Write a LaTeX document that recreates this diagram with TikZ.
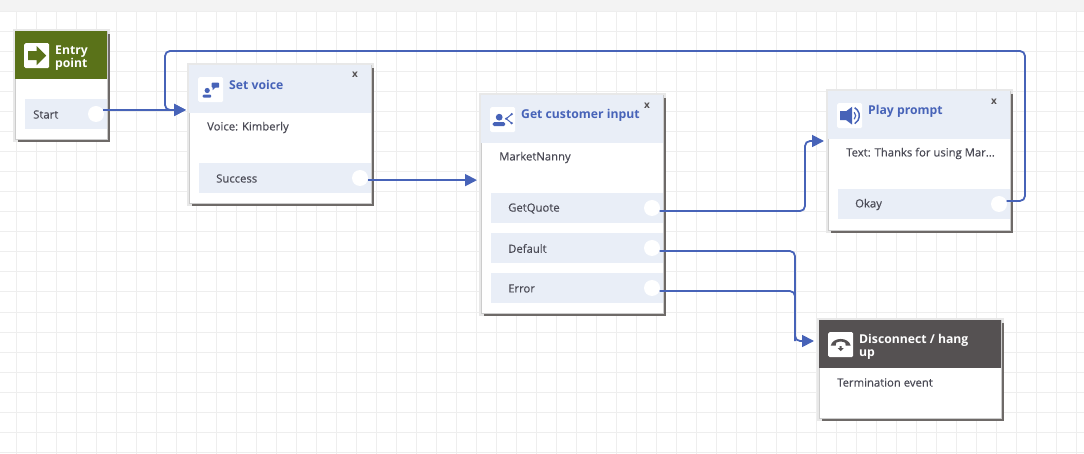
\documentclass[tikz,border=0pt]{standalone}
\usepackage{fontspec}
\setmainfont{Open Sans}
\newfontfamily\labelfont[FakeBold=0.35]{Open Sans}
\usetikzlibrary{arrows.meta, shadows}
\definecolor{flowblue}{HTML}{4763B8}
\definecolor{flowpale}{HTML}{E9EEF7}
\definecolor{flowgreen}{HTML}{5A7219}
\definecolor{flowdark}{HTML}{555152}
\definecolor{flowtext}{HTML}{4A4A55}
\definecolor{flowgrid}{HTML}{EEEEEE}
\definecolor{flowband}{HTML}{F3F3F3}
\definecolor{flowshadow}{HTML}{6E6A68}
\definecolor{flowhalo}{HTML}{E8E8E8}
\definecolor{flowedge}{HTML}{CCCCCC}
\begin{document}
\begin{tikzpicture}[x=1pt, y=-1pt, font=\fontsize{11.3}{13}\selectfont\labelfont,
    flowbox/.style={anchor=north west, inner sep=0, fill=white,
      preaction={draw=flowhalo, line width=5pt},
      drop shadow={shadow xshift=2.5pt, shadow yshift=-2.5pt, fill=flowshadow, opacity=1},
      draw=flowedge, line width=0.6pt, minimum width=182pt},
    paleband/.style={anchor=north west, inner sep=0, fill=flowpale},
    headband/.style={paleband, minimum width=182pt, minimum height=48pt},
    outrow/.style={paleband, minimum width=172pt, minimum height=30pt},
    outport/.style={circle, fill=white, inner sep=0, minimum size=16pt},
    iconbox/.style={anchor=north west, inner sep=0, fill=white, rounded corners=1.5pt, minimum size=25pt},
    headtext/.style={anchor=west, inner sep=0, text=flowblue, font=\fontsize{12.2}{13}\selectfont\bfseries},
    whitetext/.style={anchor=west, inner sep=0, text=white, align=left, font=\fontsize{12.2}{13}\selectfont\bfseries},
    bodytext/.style={anchor=west, inner sep=0, text=flowtext},
    closetext/.style={inner sep=0, text=flowdark, font=\fontsize{10}{10}\selectfont\bfseries},
    flowline/.style={draw=flowblue, line width=1.8pt, rounded corners=5pt},
    flowarrow/.style={flowline, -{Triangle[length=12pt, width=12pt]}}]
    \useasboundingbox (0,0) rectangle (1084,454);
    % background grid
    \fill[flowband] (0,0) rectangle (1084,11);
    \foreach \gx in {16,36,...,1076} \draw[flowgrid, line width=1pt] (\gx,12) -- (\gx,454);
    \foreach \gy in {12,32,...,452} \draw[flowgrid, line width=1pt] (0,\gy) -- (1084,\gy);

    % entry point
    \node[flowbox, minimum width=92pt, minimum height=108pt] (entrybox) at (15,31) {};
    \node[paleband, fill=flowgreen, minimum width=92pt, minimum height=48pt] (entryhead) at (15,31) {};
    \node[iconbox] (entryicon) at (24,43) {};
    \fill[flowgreen, shift={(entryicon.center)}] (-8.5,-4.5) -- (0,-4.5) -- (0,-9.5) -- (9.5,0) -- (0,9.5) -- (0,4.5) -- (-8.5,4.5) -- cycle;
    \node[whitetext] (entrytitle) at (55,58) {Entry\\[-0.5pt]point};
    \node[paleband, minimum width=82pt, minimum height=30pt] (startrow) at (25,99) {};
    \node[bodytext] (starttext) at (33,114.5) {Start};
    \node[outport] (startport) at (96,114) {};

    % set voice
    \node[flowbox, minimum height=138pt] (voicebox) at (189,65) {};
    \node[headband] (voicehead) at (189,65) {};
    \node[iconbox] (voiceicon) at (198,77) {};
    \begin{scope}[shift={(voiceicon.center)}, flowblue]
      \fill (-3.5,0.8) circle (2.6);
      \fill[rounded corners=1pt] (-8,8) -- (-8,5) -- (0.5,5) -- (0.5,8) -- cycle;
      \fill[rounded corners=0.8pt] (1,-7) rectangle (8.5,-2);
      \fill (2,-2.5) -- (5,-2.5) -- (2,0.5) -- cycle;
    \end{scope}
    \node[headtext] (voicetitle) at (229,85) {Set voice};
    \node[closetext] (voiceclose) at (355,75) {x};
    \node[bodytext] (voicetext) at (207,127.5) {Voice: Kimberly};
    \node[outrow] (successrow) at (199,163) {};
    \node[bodytext] (successtext) at (216,178.5) {Success};
    \node[outport] (successport) at (360,178) {};

    % get customer input
    \node[flowbox, minimum height=218pt] (inputbox) at (481,95) {};
    \node[headband] (inputhead) at (481,95) {};
    \node[iconbox] (inputicon) at (490,107) {};
    \begin{scope}[shift={(inputicon.center)}, flowblue]
      \fill (-3.5,-2.5) circle (3.4);
      \fill[rounded corners=1.5pt] (-10,6.5) -- (-10,2.5) -- (2.5,2.5) -- (2.5,6.5) -- cycle;
      \draw[line width=1pt] (9,-5.5) -- (3.5,-1) -- (9,3.5);
      \fill (9,-5.5) circle (1.3) (9,3.5) circle (1.3) (3.5,-1) circle (1.3);
    \end{scope}
    \node[headtext] (inputtitle) at (521,115) {Get customer input};
    \node[closetext] (inputclose) at (647,106) {x};
    \node[bodytext] (inputtext) at (499,157.5) {MarketNanny};
    \node[outrow] (quoterow) at (491,193) {};
    \node[bodytext] (quotetext) at (508,208.5) {GetQuote};
    \node[outport] (quoteport) at (652,208) {};
    \node[outrow] (defaultrow) at (491,233) {};
    \node[bodytext] (defaulttext) at (508,248.5) {Default};
    \node[outport] (defaultport) at (652,248) {};
    \node[outrow] (errorrow) at (491,273) {};
    \node[bodytext] (errortext) at (508,288.5) {Error};
    \node[outport] (errorport) at (652,288) {};

    % play prompt
    \node[flowbox, minimum height=139pt] (promptbox) at (828,91) {};
    \node[headband] (prompthead) at (828,91) {};
    \node[iconbox] (prompticon) at (837,103) {};
    \begin{scope}[shift={(prompticon.center)}, flowblue]
      \fill (-9.5,-4.5) -- (-3.5,-4.5) -- (2.5,-9) -- (2.5,9) -- (-3.5,4.5) -- (-9.5,4.5) -- cycle;
      \draw[line width=1.5pt] (5,-8) arc (-60:60:9.2);
      \draw[line width=1.2pt] (4.5,-3.5) arc (-45:45:5);
    \end{scope}
    \node[headtext] (prompttitle) at (868,111) {Play prompt};
    \node[closetext] (promptclose) at (994,102) {x};
    \node[bodytext] (prompttext) at (846,153.5) {Text: Thanks for using Mar...};
    \node[outrow] (okayrow) at (838,189) {};
    \node[bodytext] (okaytext) at (855,204.5) {Okay};
    \node[outport] (okayport) at (999,204) {};

    % disconnect
    \node[flowbox, minimum height=98pt] (hangbox) at (819,320) {};
    \node[paleband, fill=flowdark, minimum width=182pt, minimum height=48pt] (hanghead) at (819,320) {};
    \node[iconbox] (hangicon) at (828,332) {};
    \begin{scope}[shift={(hangicon.center)}, flowdark]
      \fill (-10,1) .. controls (-8,-8) and (8,-8) .. (10,1) -- (5,1) -- (4.5,-2) .. controls (2,-3.5) and (-2,-3.5) .. (-4.5,-2) -- (-5,1) -- cycle;
      \fill (-1,1.5) -- (1,1.5) -- (1,3.5) -- (3,3.5) -- (0,6.5) -- (-3,3.5) -- (-1,3.5) -- cycle;
    \end{scope}
    \node[whitetext] (hangtitle) at (859,347) {Disconnect / hang\\[-0.5pt]up};
    \node[bodytext] (hangtext) at (837,382.5) {Termination event};

    % connectors
    \coordinate (voicein) at (186,110);
    \coordinate (inputin) at (477,180);
    \coordinate (promptin) at (824,141);
    \coordinate (hangin) at (814,341);
    \coordinate (quotebend) at (805,141);
    \coordinate (hangbend) at (795,341);
    \coordinate (loopright) at (1025,51);
    \coordinate (loopleft) at (165,51);
    \coordinate (loopdown) at (165,110);
    \draw[flowarrow] (startport.30) -- (startport.30 -| voicein);
    \draw[flowarrow] (successport.-15) -- (successport.-15 -| inputin);
    \draw[flowarrow] (quoteport.-22) -| (quotebend) -- (promptin);
    \draw[flowarrow] (defaultport.-22) -| (hangbend) -- (hangin);
    \draw[flowline] (errorport.-22) -| (hangbend);
    \draw[flowarrow] (okayport.22) -| (loopright) -- (loopleft) -- (loopdown) -- (voicein);
\end{tikzpicture}
\end{document}
